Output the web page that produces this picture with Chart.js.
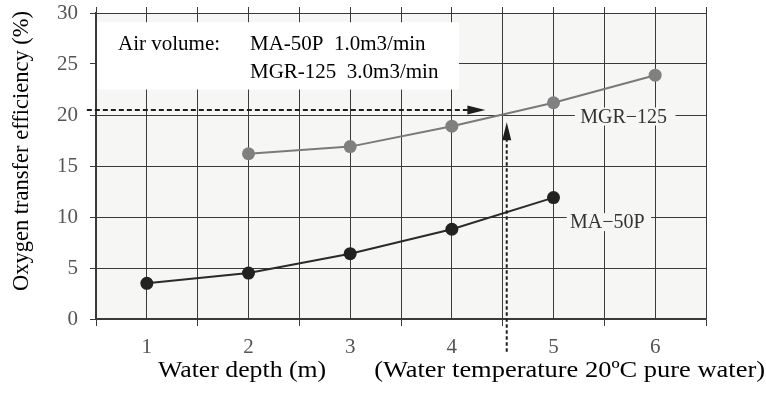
<!DOCTYPE html>
<html>
<head>
<meta charset="utf-8">
<script src="https://cdn.jsdelivr.net/npm/chart.js@4.4.1/dist/chart.umd.min.js"></script>
<style>
  html, body { margin: 0; padding: 0; background: #ffffff; }
  #wrap { width: 766px; height: 394px; }
</style>
</head>
<body>
<div id="wrap"><canvas id="c" width="766" height="394"></canvas></div>
<script>
// ---- data ----
const maDepth   = [1, 2, 3, 4, 5];
const maValues  = [3.5, 4.5, 6.4, 8.8, 11.9];
const mgrDepth  = [2, 3, 4, 5, 6];
const mgrValues = [16.2, 16.9, 18.9, 21.2, 23.9];
const xTickLabels = [1, 2, 3, 4, 5, 6];
const yTickValues = [0, 5, 10, 15, 20, 25, 30];
const seriesNames = ['MA\u221250P', 'MGR\u2212125'];
const legendLines = ['Air volume:', 'MA-50P  1.0m3/min', 'MGR-125  3.0m3/min'];
const xTitleParts = ['Water depth (m)', '(Water temperature 20\u00baC pure water)'];
const yTitle = 'Oxygen transfer efficiency (%)';
// reading guide: from 20.5 % across to the MGR-125 curve, down to depth 4.54 m
const guideLevel = 20.5;
const guideDepth = 4.54;

const SERIF = '"Liberation Serif", "Times New Roman", serif';
const GRID = '#3a3a3a';
const PLOT_BG = '#f6f6f5';

const maData = maDepth.map((d, i) => ({ x: d, y: maValues[i] }));
const mgrData = mgrDepth.map((d, i) => ({ x: d, y: mgrValues[i] }));

function noPad(s) { s.paddingTop = 0; s.paddingBottom = 0; s.paddingLeft = 0; s.paddingRight = 0; }

const decor = {
  id: 'decor',
  beforeDraw(chart) {
    const { ctx, chartArea: a } = chart;
    ctx.save();
    ctx.fillStyle = PLOT_BG;
    ctx.fillRect(a.left, a.top, a.right - a.left, a.bottom - a.top);
    ctx.restore();
  },
  beforeDatasetsDraw(chart) {
    const { ctx, scales: { x, y } } = chart;
    ctx.save();
    // legend box (air volume)
    const bx0 = x.getPixelForValue(0.5), bx1 = x.getPixelForValue(4.07);
    const by0 = y.getPixelForValue(29.1), by1 = y.getPixelForValue(22.5);
    ctx.fillStyle = '#ffffff';
    ctx.fillRect(bx0 + 1, by0, bx1 - bx0 - 1, by1 - by0);
    ctx.fillStyle = '#000';
    ctx.font = '21px ' + SERIF;
    ctx.textBaseline = 'middle';
    ctx.textAlign = 'left';
    ctx.fillText(legendLines[0], bx0 + 22, by0 + 22);
    ctx.fillText(legendLines[1], bx0 + 154, by0 + 22);
    ctx.fillText(legendLines[2], bx0 + 154, by0 + 50);
    ctx.restore();
  },
  afterDatasetsDraw(chart) {
    const { ctx, scales: { x, y } } = chart;
    ctx.save();
    // series labels with background patch
    const labs = [
      { t: seriesNames[1], cx: 5.69, cy: 19.85, x0: 5.21, x1: 6.20 },
      { t: seriesNames[0], cx: 5.53, cy: 9.5, x0: 5.13, x1: 5.96 }
    ];
    ctx.font = '20px ' + SERIF;
    ctx.textAlign = 'center';
    ctx.textBaseline = 'middle';
    labs.forEach(l => {
      const px0 = x.getPixelForValue(l.x0), px1 = x.getPixelForValue(l.x1);
      const py = y.getPixelForValue(l.cy);
      ctx.fillStyle = PLOT_BG;
      ctx.fillRect(px0, py - 9, px1 - px0, 18);
      ctx.fillStyle = '#333';
      ctx.fillText(l.t, x.getPixelForValue(l.cx), py + 1);
    });

    // dashed guide arrows
    ctx.strokeStyle = '#1e1e1e';
    ctx.fillStyle = '#1e1e1e';
    ctx.lineWidth = 2;
    // horizontal
    const hy = y.getPixelForValue(guideLevel);
    const hx0 = x.getPixelForValue(0.41);
    const hTip = x.getPixelForValue(4.33);
    ctx.setLineDash([5, 3]);
    ctx.beginPath();
    ctx.moveTo(hx0, hy);
    ctx.lineTo(hTip - 17, hy);
    ctx.stroke();
    ctx.setLineDash([]);
    ctx.beginPath();
    ctx.moveTo(hTip, hy);
    ctx.lineTo(hTip - 18, hy - 4.5);
    ctx.lineTo(hTip - 18, hy + 4.5);
    ctx.closePath();
    ctx.fill();
    // vertical
    const vx = x.getPixelForValue(guideDepth);
    const vy0 = y.getPixelForValue(-3.2);
    const vTip = y.getPixelForValue(19.3);
    ctx.setLineDash([3.5, 2.5]);
    ctx.beginPath();
    ctx.moveTo(vx, vy0);
    ctx.lineTo(vx, vTip + 17);
    ctx.stroke();
    ctx.setLineDash([]);
    ctx.beginPath();
    ctx.moveTo(vx, vTip);
    ctx.lineTo(vx - 4.5, vTip + 18);
    ctx.lineTo(vx + 4.5, vTip + 18);
    ctx.closePath();
    ctx.fill();
    ctx.restore();
  },
  afterDraw(chart) {
    const { ctx } = chart;
    ctx.save();
    ctx.fillStyle = '#000';
    ctx.textBaseline = 'alphabetic';
    ctx.font = '23px ' + SERIF;
    // x title (glyphs in the reference are horizontally wide)
    ctx.save();
    ctx.translate(158, 377);
    ctx.scale(1.12, 1);
    ctx.textAlign = 'left';
    ctx.fillText(xTitleParts[0], 0, 0);
    ctx.restore();
    ctx.save();
    ctx.translate(765, 377);
    ctx.scale(1.15, 1);
    ctx.textAlign = 'right';
    ctx.fillText(xTitleParts[1], 0, 0);
    ctx.restore();
    // y title
    ctx.translate(22, 151);
    ctx.rotate(-Math.PI / 2);
    ctx.textAlign = 'center';
    ctx.textBaseline = 'middle';
    ctx.font = '22.5px ' + SERIF;
    ctx.fillText(yTitle, 0, 0);
    ctx.restore();
  }
};

new Chart(document.getElementById('c'), {
  type: 'line',
  data: {
    datasets: [
      {
        label: seriesNames[1],
        data: mgrData,
        borderColor: '#7a7a7a',
        backgroundColor: '#808080',
        pointBackgroundColor: '#808080',
        pointBorderWidth: 0,
        pointRadius: 6.5,
        borderWidth: 2,
        tension: 0
      },
      {
        label: seriesNames[0],
        data: maData,
        borderColor: '#2a2a2a',
        backgroundColor: '#222',
        pointBackgroundColor: '#222',
        pointBorderWidth: 0,
        pointRadius: 6.5,
        borderWidth: 2,
        tension: 0
      }
    ]
  },
  options: {
    responsive: false,
    animation: false,
    devicePixelRatio: 1,
    layout: { padding: { left: 0, right: 60, top: 0, bottom: 0 } },
    plugins: { legend: { display: false }, tooltip: { enabled: false } },
    scales: {
      x: {
        type: 'linear',
        position: 'bottom',
        min: 0.5,
        max: 6.5,
        afterFit: s => { s.height = 75; noPad(s); },
        ticks: {
          stepSize: 0.5,
          autoSkip: false,
          maxRotation: 0,
          padding: 9,
          color: '#555',
          font: { family: SERIF, size: 21 },
          callback: v => (xTickLabels.includes(v) ? String(v) : '')
        },
        grid: {
          color: GRID,
          lineWidth: 1,
          tickLength: 7,
          tickColor: c => (c.tick && Number.isInteger(c.tick.value) ? 'rgba(0,0,0,0)' : GRID)
        },
        border: { color: GRID, width: 1.3 }
      },
      xTop: {
        type: 'linear',
        position: 'top',
        min: 0.5,
        max: 6.5,
        afterFit: s => { s.height = 13; noPad(s); },
        ticks: { stepSize: 0.5, display: false },
        grid: { drawOnChartArea: false, color: GRID, tickLength: 6 },
        border: { display: false }
      },
      y: {
        min: 0,
        max: 30,
        afterFit: s => { s.width = 96; noPad(s); },
        afterBuildTicks: s => { s.ticks = yTickValues.map(v => ({ value: v })); },
        ticks: {
          stepSize: 5,
          padding: 12,
          color: '#555',
          font: { family: SERIF, size: 21 }
        },
        grid: { color: GRID, lineWidth: 1, tickLength: 6 },
        border: { color: GRID, width: 1.3 }
      }
    }
  },
  plugins: [decor]
});
</script>
</body>
</html>
